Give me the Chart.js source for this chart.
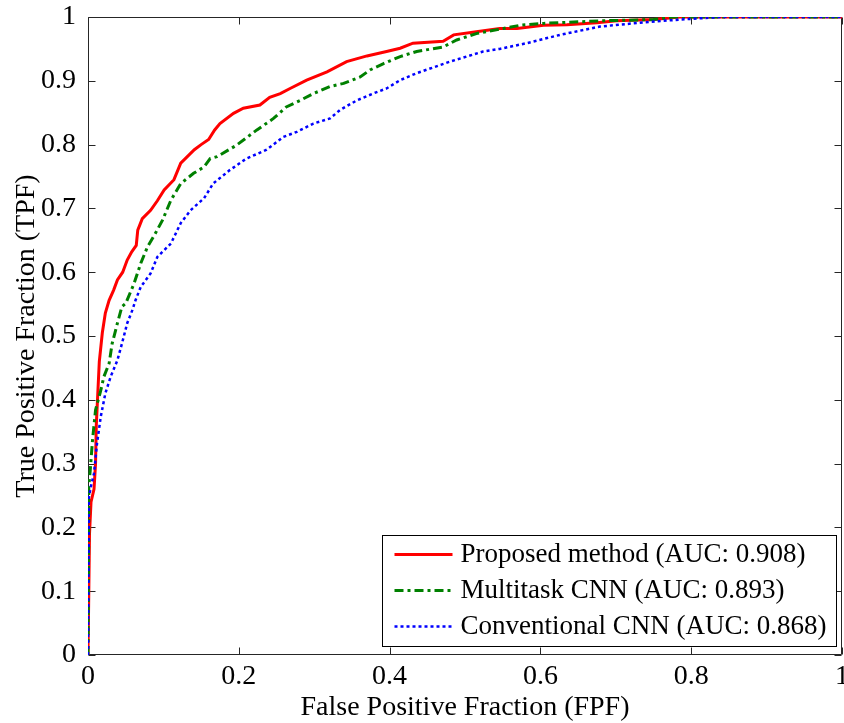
<!DOCTYPE html>
<html>
<head>
<meta charset="utf-8">
<script src="https://cdn.jsdelivr.net/npm/chart.js@4.4.1/dist/chart.umd.min.js"></script>
<style>
  html, body { margin: 0; padding: 0; background: #fff; }
  #wrap { width: 844px; height: 723px; }
</style>
</head>
<body>
<div id="wrap"><canvas id="roc"></canvas></div>
<script>
// ROC curves, [FPF, TPF]
var proposedRoc = [
  [0, 0], [0.002, 0.19], [0.004, 0.24], [0.008, 0.26], [0.010, 0.30], [0.011, 0.36],
  [0.013, 0.41], [0.015, 0.46], [0.019, 0.505], [0.023, 0.536], [0.028, 0.556],
  [0.034, 0.572], [0.039, 0.588], [0.046, 0.600], [0.052, 0.619], [0.058, 0.632],
  [0.064, 0.642], [0.066, 0.666], [0.072, 0.684], [0.083, 0.697], [0.092, 0.712],
  [0.101, 0.729], [0.114, 0.745], [0.123, 0.771], [0.141, 0.792], [0.150, 0.800],
  [0.160, 0.808], [0.168, 0.823], [0.175, 0.833], [0.193, 0.849], [0.206, 0.857],
  [0.228, 0.862], [0.241, 0.874], [0.255, 0.880], [0.268, 0.888], [0.290, 0.901],
  [0.317, 0.914], [0.343, 0.930], [0.370, 0.939], [0.396, 0.946], [0.414, 0.951],
  [0.431, 0.959], [0.471, 0.962], [0.485, 0.972], [0.515, 0.977], [0.546, 0.982],
  [0.569, 0.982], [0.604, 0.987], [0.635, 0.988], [0.675, 0.991], [0.701, 0.994],
  [0.750, 0.996], [0.785, 1.0], [1, 1.0]
];
var multitaskRoc = [
  [0, 0], [0.001, 0.20], [0.001, 0.264], [0.003, 0.29], [0.006, 0.337], [0.010, 0.384],
  [0.017, 0.415], [0.021, 0.436], [0.028, 0.457], [0.032, 0.488], [0.039, 0.520],
  [0.045, 0.546], [0.050, 0.551], [0.061, 0.582], [0.070, 0.614], [0.079, 0.640],
  [0.088, 0.658], [0.099, 0.682], [0.110, 0.713], [0.123, 0.739], [0.140, 0.755],
  [0.154, 0.765], [0.162, 0.778], [0.171, 0.781], [0.197, 0.799], [0.224, 0.823],
  [0.246, 0.841], [0.263, 0.859], [0.281, 0.869], [0.299, 0.880], [0.321, 0.891],
  [0.339, 0.896], [0.361, 0.906], [0.374, 0.917], [0.392, 0.927], [0.414, 0.938],
  [0.436, 0.946], [0.471, 0.953], [0.489, 0.964], [0.515, 0.974], [0.551, 0.982],
  [0.573, 0.987], [0.604, 0.990], [0.679, 0.994], [0.750, 0.996], [0.776, 1.0], [1, 1.0]
];
var conventionalRoc = [
  [0, 0], [0.001, 0.19], [0.001, 0.246], [0.004, 0.265], [0.008, 0.285], [0.012, 0.332],
  [0.017, 0.374], [0.023, 0.410], [0.030, 0.436], [0.039, 0.462], [0.045, 0.488],
  [0.052, 0.520], [0.059, 0.541], [0.063, 0.556], [0.070, 0.577], [0.083, 0.598],
  [0.092, 0.624], [0.110, 0.645], [0.123, 0.677], [0.136, 0.697], [0.154, 0.716],
  [0.166, 0.739], [0.188, 0.760], [0.210, 0.778], [0.237, 0.792], [0.259, 0.812],
  [0.277, 0.820], [0.299, 0.833], [0.321, 0.841], [0.334, 0.854], [0.356, 0.869],
  [0.378, 0.880], [0.396, 0.888], [0.414, 0.901], [0.436, 0.912], [0.480, 0.930],
  [0.524, 0.946], [0.546, 0.950], [0.582, 0.959], [0.626, 0.972], [0.679, 0.985],
  [0.732, 0.991], [0.785, 0.996], [0.840, 1.0], [1, 1.0]
];

var seriesLabels = [
  'Proposed method (AUC: 0.908)',
  'Multitask CNN (AUC: 0.893)',
  'Conventional CNN (AUC: 0.868)'
];

var xTickValues = [0, 0.2, 0.4, 0.6, 0.8, 1];
var xTickLabels = ['0', '0.2', '0.4', '0.6', '0.8', '1'];
var yTickValues = [0, 0.1, 0.2, 0.3, 0.4, 0.5, 0.6, 0.7, 0.8, 0.9, 1];
var yTickLabels = ['0', '0.1', '0.2', '0.3', '0.4', '0.5', '0.6', '0.7', '0.8', '0.9', '1'];

var serif = "'Liberation Serif', 'Times New Roman', serif";

function toPoints(pairs) {
  return pairs.map(function(p) { return { x: p[0], y: p[1] }; });
}

// Frame and inward tick marks, matlab style
var frameTicks = {
  id: 'frameTicks',
  beforeDatasetsDraw: function(chart) {
    var ctx = chart.ctx;
    var a = chart.chartArea;
    var xs = chart.scales.x, ys = chart.scales.y;
    var L = Math.round(a.left) + 0.5, R = Math.round(a.right) - 0.5;
    var T = Math.round(a.top) + 0.5, B = Math.round(a.bottom) - 0.5;
    var len = 7;
    ctx.save();
    ctx.strokeStyle = '#262626';
    ctx.lineWidth = 1;
    ctx.beginPath();
    ctx.rect(L, T, R - L, B - T);
    xTickValues.forEach(function(v) {
      var px = Math.round(xs.getPixelForValue(v)) + 0.5;
      ctx.moveTo(px, B); ctx.lineTo(px, B - len);
      ctx.moveTo(px, T); ctx.lineTo(px, T + len);
    });
    yTickValues.forEach(function(v) {
      var py = Math.round(ys.getPixelForValue(v)) + 0.5;
      ctx.moveTo(L, py); ctx.lineTo(L + len, py);
      ctx.moveTo(R, py); ctx.lineTo(R - len, py);
    });
    ctx.stroke();
    ctx.restore();
  }
};

// Legend box in the lower right corner of the axes
var boxLegend = {
  id: 'boxLegend',
  afterDraw: function(chart) {
    var ctx = chart.ctx;
    var a = chart.chartArea;
    var sets = chart.data.datasets;
    ctx.save();
    ctx.font = '27px ' + serif;
    var maxW = 0;
    sets.forEach(function(ds) { maxW = Math.max(maxW, ctx.measureText(ds.label).width); });
    var padL = 12, sample = 58, gap = 8, padR = 10, rowH = 36;
    var w = padL + sample + gap + maxW + padR;
    var h = 111;
    var right = a.right - 6, bottom = a.bottom - 9;
    var left = Math.round(right - w) + 0.5, top = Math.round(bottom - h) + 0.5;
    ctx.fillStyle = '#fff';
    ctx.fillRect(left, top, right - left, bottom - top);
    ctx.strokeStyle = '#000';
    ctx.lineWidth = 1;
    ctx.strokeRect(left, top, Math.round(right - left), Math.round(bottom - top));
    sets.forEach(function(ds, i) {
      var cy = top + 19 + i * rowH;
      ctx.beginPath();
      ctx.strokeStyle = ds.borderColor;
      ctx.lineWidth = ds.borderWidth;
      ctx.setLineDash(ds.borderDash || []);
      ctx.moveTo(left + padL, cy);
      ctx.lineTo(left + padL + sample, cy);
      ctx.stroke();
      ctx.setLineDash([]);
      ctx.fillStyle = '#000';
      ctx.textAlign = 'left';
      ctx.textBaseline = 'middle';
      ctx.fillText(ds.label, left + padL + sample + gap, cy);
    });
    ctx.restore();
  }
};

var ctx = document.getElementById('roc');
var rocChart = new Chart(ctx, {
  type: 'scatter',
  data: {
    datasets: [
      {
        label: seriesLabels[0],
        data: toPoints(proposedRoc),
        borderColor: '#ff0000',
        borderWidth: 3,
        showLine: true,
        pointRadius: 0,
        order: 3
      },
      {
        label: seriesLabels[1],
        data: toPoints(multitaskRoc),
        borderColor: '#008000',
        borderWidth: 3,
        borderDash: [9, 4, 3, 4],
        showLine: true,
        pointRadius: 0,
        order: 2
      },
      {
        label: seriesLabels[2],
        data: toPoints(conventionalRoc),
        borderColor: '#0000ff',
        borderWidth: 2.5,
        borderDash: [3, 3],
        showLine: true,
        pointRadius: 0,
        order: 1
      }
    ]
  },
  options: {
    responsive: true,
    maintainAspectRatio: false,
    animation: false,
    layout: { padding: { left: 0, top: 17, right: 2, bottom: 0 } },
    plugins: {
      legend: { display: false },
      tooltip: { enabled: false }
    },
    scales: {
      x: {
        type: 'linear',
        min: 0,
        max: 1,
        grid: { display: false },
        border: { display: false },
        afterBuildTicks: function(scale) {
          scale.ticks = xTickValues.map(function(v) { return { value: v }; });
        },
        afterFit: function(scale) {
          scale.height = 68;
          scale.paddingLeft = 0;
          scale.paddingRight = 0;
        },
        ticks: {
          autoSkip: false,
          maxRotation: 0,
          padding: -3,
          color: '#000',
          font: { family: serif, size: 28, lineHeight: 1.2 },
          callback: function(value, index) { return xTickLabels[index]; }
        },
        title: {
          display: true,
          text: 'False Positive Fraction (FPF)',
          color: '#000',
          padding: { top: 0, bottom: -1 },
          font: { family: serif, size: 28, lineHeight: 1.2 }
        }
      },
      y: {
        type: 'linear',
        min: 0,
        max: 1,
        grid: { display: false },
        border: { display: false },
        afterBuildTicks: function(scale) {
          scale.ticks = yTickValues.map(function(v) { return { value: v }; });
        },
        afterFit: function(scale) {
          scale.width = 88;
          scale.paddingTop = 0;
          scale.paddingBottom = 0;
        },
        ticks: {
          autoSkip: false,
          padding: 4,
          color: '#000',
          font: { family: serif, size: 28, lineHeight: 1.2 },
          callback: function(value, index) { return yTickLabels[index]; }
        },
        title: {
          display: true,
          text: 'True Positive Fraction (TPF)',
          color: '#000',
          padding: { top: 10, bottom: 0 },
          font: { family: serif, size: 28, lineHeight: 1.2 }
        }
      }
    }
  },
  plugins: [frameTicks, boxLegend]
});
</script>
</body>
</html>
